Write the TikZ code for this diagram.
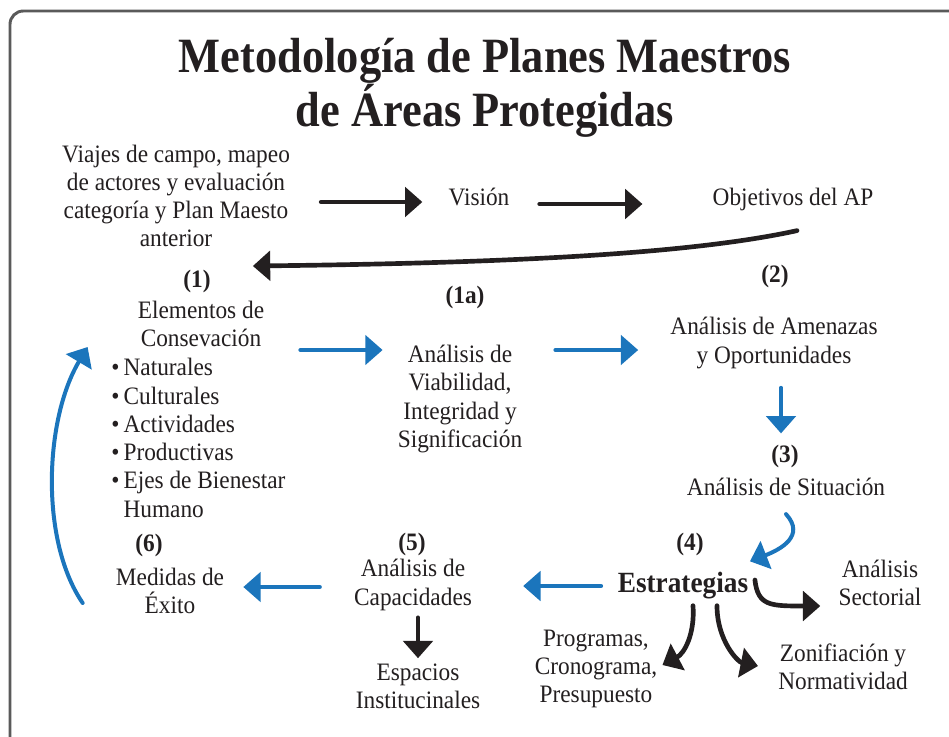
\documentclass[tikz,border=0pt]{standalone}
\usepackage{fontspec}
\setmainfont{Liberation Serif}[FakeStretch=0.93]
\newfontfamily\titlefont{Liberation Serif}[FakeStretch=0.9]
\usetikzlibrary{arrows.meta,calc}
\definecolor{azul}{HTML}{1B75BC}
\definecolor{negro}{HTML}{231F20}
\definecolor{marco}{HTML}{5A5A5A}
\tikzset{
  txt/.style={font=\fontsize{18.8}{21.2}\selectfont, align=center, inner sep=0pt, text=negro},
  num/.style={txt, font=\fontsize{18.8}{21.2}\selectfont\bfseries},
  flechanegra/.style={draw=negro, line width=3.5pt, line cap=round, -{Triangle[length=13pt,width=22pt]}},
  flechaazul/.style={draw=azul, line width=3pt, line cap=round, -{Triangle[length=13pt,width=22pt]}},
}
\begin{document}
\begin{tikzpicture}[x=0.75pt, y=-0.75pt]
  \useasboundingbox (0,0) rectangle (949,736);
  \fill[white] (0,0) rectangle (949,736);
  % Marco
  \draw[marco, line width=2.2pt, rounded corners=10pt] (10,11) rectangle (985,770);

  % Titulo
  \node[font=\fontsize{37}{37.5}\titlefont\bfseries, align=center, text=negro, inner sep=0pt] (titulo) at (485,88) {Metodología de Planes Maestros\\de Áreas Protegidas};

  % Fila superior
  \node[txt] (viajes) at (176,196) {Viajes de campo, mapeo\\de actores y evaluación\\categoría y Plan Maesto\\anterior};
  \node[txt] (vision) at (479,197) {Visión};
  \node[txt] (objetivos) at (793,199) {Objetivos del AP};

  % (1) Elementos de conservacion
  \node[num] (n1) at (197,281) {(1)};
  \node[txt] (elementos) at (201,324) {Elementos de\\Consevación};
  \node[txt, align=left, anchor=west] (lista) at (111,438) {•\,Naturales\\•\,Culturales\\•\,Actividades\\•\,Productivas\\•\,Ejes de Bienestar\\\hphantom{•\,}Humano};

  % (1a) Viabilidad
  \node[num] (n1a) at (465,297) {(1a)};
  \node[txt] (viabilidad) at (460,399) {Análisis de\\Viabilidad,\\Integridad y\\Significación};

  % (2) y (3)
  \node[num] (n2) at (775,276) {(2)};
  \node[txt] (amenazas) at (774,343) {Análisis de Amenazas\\y Oportunidades};
  \node[num] (n3) at (785,456) {(3)};
  \node[txt] (situacion) at (786,487) {Análisis de Situación};

  % (4) Estrategias
  \node[num] (n4) at (690,544) {(4)};
  \node[txt, font=\fontsize{22}{24}\selectfont\bfseries] (estrategias) at (683,586) {Estrategias};
  \node[txt] (sectorial) at (880,583) {Análisis\\Sectorial};
  \node[txt] (programas) at (596,669) {Programas,\\Cronograma,\\Presupuesto};
  \node[txt] (zonificacion) at (843,667) {Zonifiación y\\Normatividad};

  % (5) y (6)
  \node[num] (n5) at (412,544) {(5)};
  \node[txt] (capacidades) at (413,585) {Análisis de\\Capacidades};
  \node[txt] (espacios) at (418,686) {Espacios\\Institucinales};
  \node[num] (n6) at (149,545) {(6)};
  \node[txt] (medidas) at (170,591) {Medidas de\\Éxito};

  % Flechas negras
  \draw[flechanegra] ($(viajes.east)+(31,6)$) -- ($(vision.west)+(-26,5)$);
  \draw[flechanegra] ($(vision.east)+(30,7)$) -- ($(objetivos.west)+(-70,5)$);
  \draw[flechanegra] ($(objetivos.south)+(4,20)$) .. controls +(-105,23) and +(259,-3) .. ($(n1.east)+(42,-15)$);
  \draw[flechanegra] ($(capacidades.south)+(5,7)$) -- ($(espacios.north)+(0,-5)$);
  \draw[flechanegra] ($(estrategias.east)+(6.5,-6)$) .. controls +(3,26) and +(-50,0) .. ($(sectorial.west)+(-18,23)$);
  \draw[flechanegra] ($(estrategias.south)+(10,6)$) .. controls +(2,28) and +(22,-11.6) .. ($(programas.east)+(5,-4)$);
  \draw[flechanegra] ($(estrategias.south)+(34,6)$) .. controls +(0,35) and +(-20,-4) .. ($(zonificacion.west)+(-20,-1)$);

  % Flechas azules
  \draw[flechaazul] ($(elementos.east)+(36,26)$) -- ($(viabilidad.west)+(-15,-49)$);
  \draw[flechaazul] ($(viabilidad.east)+(33,-49)$) -- ($(amenazas.west)+(-32,7)$);
  \draw[flechaazul] ($(amenazas.south)+(7,19)$) -- ($(n3.north)+(-4,-11)$);
  \draw[flechaazul] ($(situacion.south)+(0,18)$) .. controls +(20,22) and +(30,-11.7) .. ($(estrategias.north east)+(1.5,-11)$);
  \draw[flechaazul] ($(estrategias.west)+(-16.5,0)$) -- ($(capacidades.east)+(51,1)$);
  \draw[flechaazul] ($(capacidades.west)+(-34,2)$) -- ($(medidas.east)+(19,-4)$);
  \draw[flechaazul] ($(medidas.west)+(-33,12)$) .. controls +(-43,-63) and +(-43,72) .. ($(elementos.west)+(-50,23)$);
\end{tikzpicture}
\end{document}
